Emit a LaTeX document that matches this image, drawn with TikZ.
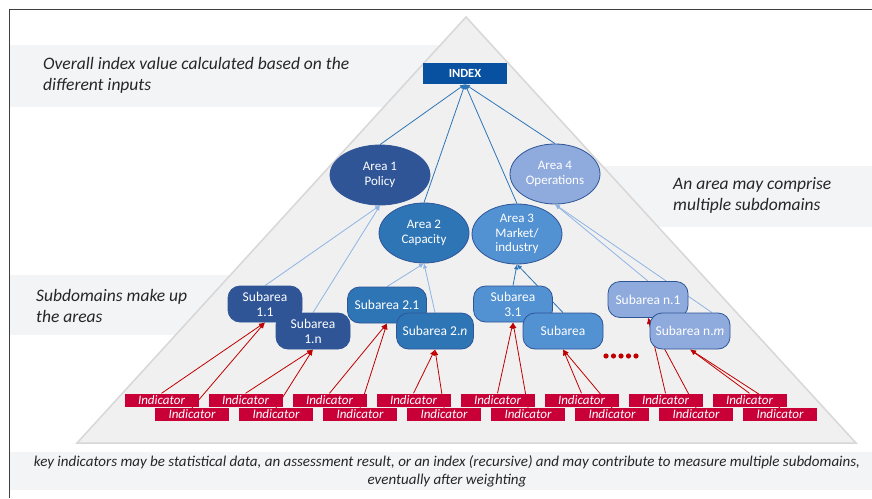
\documentclass[tikz,border=0pt]{standalone}
\usepackage{fontspec}
\setmainfont{Carlito}
\usetikzlibrary{arrows.meta,shapes.geometric}

\definecolor{bandgray}{RGB}{243,244,246}
\definecolor{pyrfill}{RGB}{240,240,240}
\definecolor{pyredge}{RGB}{215,215,215}
\definecolor{indexblue}{RGB}{8,80,160}
\definecolor{blueA}{RGB}{47,85,151}
\definecolor{blueB}{RGB}{46,117,182}
\definecolor{blueC}{RGB}{82,145,210}
\definecolor{blueD}{RGB}{143,170,220}
\definecolor{linkblue}{RGB}{143,180,227}
\definecolor{indred}{RGB}{200,0,55}
\definecolor{arrred}{RGB}{192,0,0}

\pgfdeclarelayer{back}
\pgfdeclarelayer{wires}
\pgfsetlayers{back,wires,main}

\begin{document}
\begin{tikzpicture}[x=1pt,y=-1pt,
    note/.style={font=\fontsize{17.5}{21}\selectfont\itshape,align=left,anchor=west,inner sep=0,text=black!85},
    area/.style={ellipse,fill=#1,draw=blueA,line width=0.8,text=white,minimum width=90,minimum height=60,inner sep=0,align=center,font=\fontsize{13}{14.5}\selectfont},
    subarea/.style={rounded corners=12,fill=#1,draw=blueA,line width=0.8,text=white,minimum width=79,minimum height=36,inner sep=0,align=center,font=\fontsize{13.5}{15}\selectfont},
    ind/.style={fill=indred,text=white,minimum width=74,minimum height=13,inner sep=0,font=\fontsize{13}{12}\selectfont\itshape},
    up/.style={-{Latex[length=5,width=4.5]},line width=0.8,#1},
    redup/.style={-{Latex[length=6,width=5]},line width=0.8,arrred}]

    \useasboundingbox (0,0) rectangle (872,498);

    % grey bands and the pyramid
    \begin{pgfonlayer}{back}
        \fill[bandgray] (10,45) rectangle (460,107);
        \fill[bandgray] (560,166) rectangle (872,227);
        \fill[bandgray] (10,275) rectangle (300,335);
        \fill[bandgray] (10,452) rectangle (872,490);
        \filldraw[fill=pyrfill,draw=pyredge,line width=1.5] (466,17) -- (856,443) -- (77,443) -- cycle;
        \draw[black!75,line width=1] (9,498) -- (9,9) -- (872,9);
    \end{pgfonlayer}

    \node[note] (top) at (43,75.5) {Overall index value calculated based on the\\different inputs};
    \node[note] (mid) at (673,195.5) {An area may comprise\\multiple subdomains};
    \node[note] (low) at (36,306) {Subdomains make up\\the areas};
    \node[font=\fontsize{15}{18}\selectfont\itshape,align=center,text=black!85,inner sep=0] (foot) at (447,471)
        {key indicators may be statistical data, an assessment result, or an index (recursive) and may contribute to measure multiple subdomains,\\eventually after weighting};

    \node[fill=indexblue,text=white,minimum width=84,minimum height=21,inner sep=0,font=\fontsize{12.5}{14}\selectfont\bfseries] (index) at (465,73.5) {INDEX};

    \node[area=blueA,minimum width=100] (area1) at (380,175) {Area 1\\Policy};
    \node[area=blueB] (area2) at (424,233) {Area 2\\Capacity};
    \node[area=blueC] (area3) at (517,234) {Area 3\\Market/\\industry};
    \node[area=blueD] (area4) at (555,174) {Area 4\\Operations};

    \node[subarea=blueA,minimum width=74] (sub11) at (265,304) {Subarea\\1.1};
    \node[subarea=blueA,minimum width=74] (sub1n) at (313,331) {Subarea\\1.n};
    \node[subarea=blueB] (sub21) at (387,305) {Subarea 2.1};
    \node[subarea=blueB,minimum width=77] (sub2n) at (435,331) {Subarea 2.\textit{n}};
    \node[subarea=blueC] (sub31) at (513,304) {Subarea\\3.1};
    \node[subarea=blueC,minimum width=80] (sub3x) at (563,331) {Subarea};
    \node[subarea=blueD,minimum width=80] (subn1) at (648,299.5) {Subarea n.1};
    \node[subarea=blueD,minimum width=80] (subnm) at (690,331) {Subarea n.\textit{m}};

    \foreach \i in {0,...,4}
        \fill[arrred] (606+7.5*\i,356) circle (2.6);

    \foreach \k in {0,...,7} {
        \node[ind] (ia\k) at (161.5+84*\k,400) {Indicator};
        \node[ind] (ib\k) at (192+84*\k,414.5) {Indicator};
    }

    \begin{pgfonlayer}{wires}
        \foreach \a in {area1,area2,area3,area4}
            \draw[up=blueB] (\a.north) -- (index.south);
        \draw[up=linkblue] (sub11.north) -- (area1.south);
        \draw[up=linkblue] (sub1n.north) -- (area1.south);
        \draw[up=linkblue] (sub21.north) -- (area2.south);
        \draw[up=linkblue] (sub2n.north) -- (area2.south);
        \draw[up=blueB] (sub31.north) -- (area3.south);
        \draw[up=blueB] (sub3x.north) -- (area3.south);
        \draw[up=linkblue] (subn1.north) -- (area4.south);
        \draw[up=linkblue] ([xshift=22]subnm.north) -- (area4.south);
        \foreach \k/\s in {0/sub11,1/sub1n,2/sub21,3/sub2n,4/sub31,5/sub3x,6/subn1,7/subnm} {
            \draw[redup] (ia\k.north) -- (\s.south);
            \draw[redup] (ib\k.north) -- (\s.south);
        }
    \end{pgfonlayer}
\end{tikzpicture}
\end{document}
